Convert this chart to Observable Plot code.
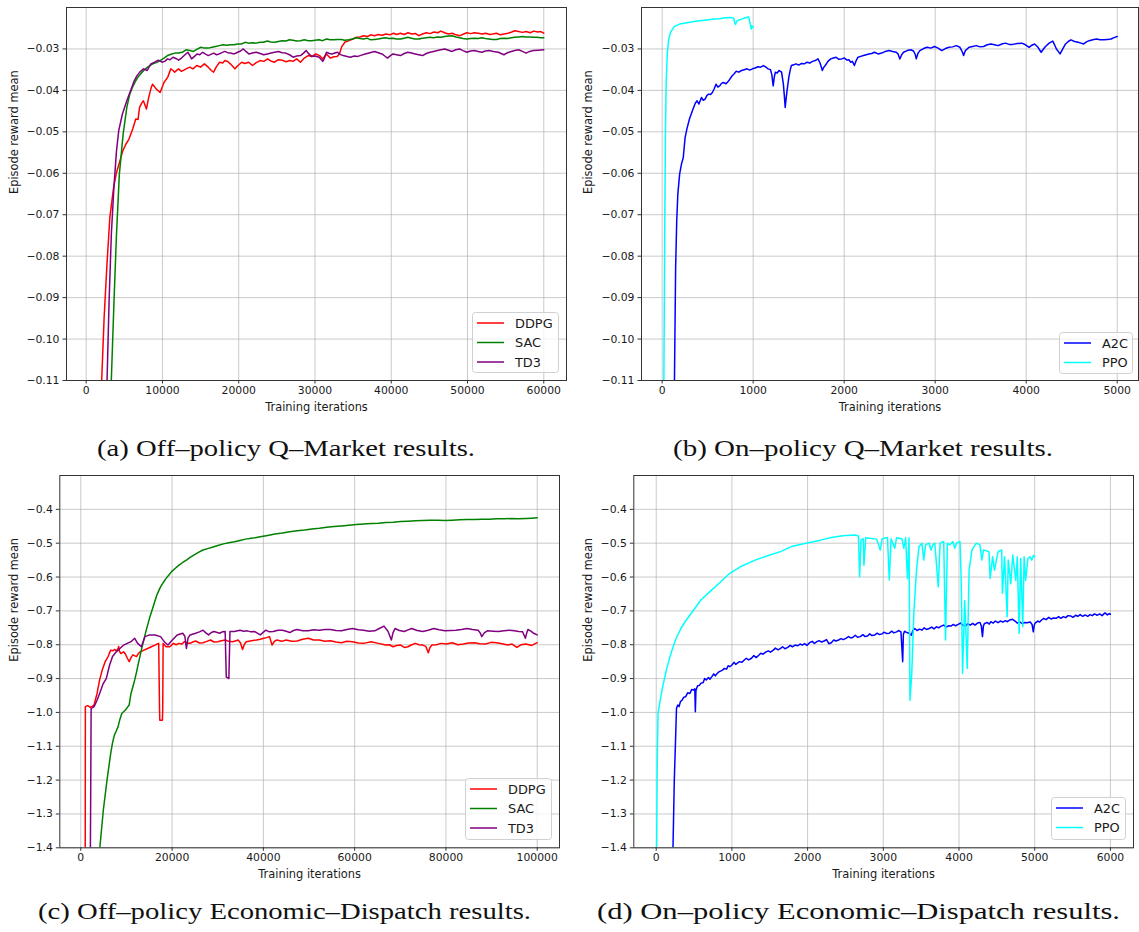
<!DOCTYPE html>
<html>
<head>
<meta charset="utf-8">
<script src="https://cdn.jsdelivr.net/npm/d3@7"></script>
<script src="https://cdn.jsdelivr.net/npm/@observablehq/plot@0.6"></script>
<style>
  html, body { margin: 0; padding: 0; background: #fff; }
  #fig { position: relative; width: 1139px; height: 932px; overflow: hidden; background: #fff; }
  .panel { position: absolute; }
  .panel svg { overflow: visible; }
  .overlay { position: absolute; left: 0; top: 0; pointer-events: none; }
</style>
</head>
<body>
<div id="fig"></div>
<script>
// ---- Series: [training iteration, episode reward mean] ----

// Q-Market, off-policy
const qOffDDPG = [[1980,-0.1125],[2350,-0.095],[2700,-0.0828],[3100,-0.0707],[3600,-0.0634],[3950,-0.0600],[4300,-0.0578],[4800,-0.0546],[5200,-0.0530],[5600,-0.0518],[6100,-0.0493],[6500,-0.0469],[6800,-0.0470],[7000,-0.0441],[7300,-0.0430],[7500,-0.0425],[7900,-0.0445],[8200,-0.0417],[8500,-0.0395],[8700,-0.0385],[9000,-0.0392],[9200,-0.0397],[9700,-0.0405],[10200,-0.0381],[10700,-0.0368],[11100,-0.0348],[11400,-0.0352],[11600,-0.0356],[12100,-0.0348],[12500,-0.0354],[13100,-0.0348],[13600,-0.0344],[14000,-0.0348],[14500,-0.0340],[15000,-0.0344],[15500,-0.0336],[16000,-0.0344],[16400,-0.0352],[16700,-0.0356],[17100,-0.0342],[17500,-0.0332],[17900,-0.0334],[18200,-0.0328],[18600,-0.0331],[18900,-0.0336],[19200,-0.0342],[19500,-0.0348],[19900,-0.0340],[20400,-0.0332],[20800,-0.0335],[21300,-0.0332],[21800,-0.0340],[22300,-0.0333],[22800,-0.0328],[23300,-0.0330],[23800,-0.0324],[24200,-0.0329],[24700,-0.0332],[25200,-0.0326],[25700,-0.0327],[26200,-0.0331],[26700,-0.0328],[27100,-0.0330],[27600,-0.0324],[28100,-0.0332],[28600,-0.0322],[29100,-0.0316],[29600,-0.0318],[30100,-0.0312],[30600,-0.0316],[31000,-0.0324],[31500,-0.0312],[32000,-0.0322],[32500,-0.0319],[32900,-0.0318],[33200,-0.0312],[33500,-0.0295],[33900,-0.0284],[34300,-0.0281],[34700,-0.0278],[35000,-0.0276],[35400,-0.0272],[35900,-0.0271],[36400,-0.0268],[36900,-0.0270],[37300,-0.0266],[37800,-0.0268],[38300,-0.0265],[38800,-0.0267],[39300,-0.0264],[39800,-0.0266],[40300,-0.0262],[40700,-0.0265],[41200,-0.0262],[41700,-0.0265],[42200,-0.0261],[42700,-0.0264],[43200,-0.0263],[43600,-0.0268],[44100,-0.0264],[44600,-0.0261],[45100,-0.0263],[45600,-0.0259],[46100,-0.0261],[46500,-0.0257],[47000,-0.0261],[47500,-0.0264],[48000,-0.0262],[48500,-0.0266],[49000,-0.0268],[49500,-0.0264],[49900,-0.0261],[50400,-0.0263],[50900,-0.0261],[51400,-0.0262],[51900,-0.0264],[52400,-0.0262],[52900,-0.0265],[53300,-0.0264],[53800,-0.0262],[54300,-0.0266],[54800,-0.0264],[55300,-0.0262],[55800,-0.0259],[56200,-0.0256],[56700,-0.0258],[57200,-0.0260],[57700,-0.0258],[58200,-0.0261],[58700,-0.0257],[59200,-0.0259],[59600,-0.0258],[60000,-0.0262]];

const qOffSAC = [[3250,-0.1125],[3650,-0.0908],[3975,-0.0747],[4350,-0.0602],[4850,-0.0505],[5330,-0.0441],[5700,-0.0410],[6060,-0.0393],[6400,-0.0380],[6790,-0.0368],[7250,-0.0358],[7760,-0.0348],[8200,-0.0342],[8730,-0.0336],[9200,-0.0333],[9700,-0.0328],[10200,-0.0322],[10660,-0.0316],[11150,-0.0313],[11630,-0.0310],[12100,-0.0310],[12600,-0.0308],[13090,-0.0302],[13600,-0.0304],[14060,-0.0306],[14500,-0.0301],[15030,-0.0296],[15500,-0.0298],[16000,-0.0298],[16500,-0.0296],[16970,-0.0294],[17450,-0.0292],[17940,-0.0290],[18400,-0.0291],[18900,-0.0290],[19400,-0.0290],[19870,-0.0288],[20350,-0.0288],[20840,-0.0284],[21300,-0.0286],[21800,-0.0285],[22300,-0.0286],[22780,-0.0284],[23250,-0.0284],[23750,-0.0281],[24200,-0.0283],[24720,-0.0284],[25200,-0.0282],[25690,-0.0280],[26200,-0.0281],[26660,-0.0278],[27100,-0.0279],[27630,-0.0281],[28100,-0.0280],[28600,-0.0278],[29100,-0.0280],[29570,-0.0280],[30000,-0.0279],[30540,-0.0278],[31000,-0.0280],[31510,-0.0276],[32000,-0.0278],[32480,-0.0278],[32950,-0.0277],[33450,-0.0277],[33900,-0.0279],[34420,-0.0278],[34900,-0.0276],[35390,-0.0273],[35900,-0.0275],[36360,-0.0276],[36800,-0.0274],[37320,-0.0278],[37800,-0.0277],[38290,-0.0276],[38800,-0.0274],[39250,-0.0273],[39700,-0.0275],[40200,-0.0274],[40700,-0.0276],[41200,-0.0276],[41700,-0.0274],[42170,-0.0272],[42650,-0.0274],[43100,-0.0276],[43630,-0.0276],[44100,-0.0274],[44600,-0.0273],[45080,-0.0272],[45550,-0.0273],[46050,-0.0271],[46500,-0.0272],[47020,-0.0270],[47500,-0.0269],[47990,-0.0268],[48500,-0.0271],[48960,-0.0273],[49400,-0.0275],[49930,-0.0276],[50400,-0.0275],[50900,-0.0274],[51400,-0.0275],[51870,-0.0273],[52350,-0.0275],[52800,-0.0276],[53300,-0.0277],[53810,-0.0277],[54300,-0.0275],[54800,-0.0274],[55260,-0.0275],[55740,-0.0273],[56200,-0.0272],[56700,-0.0271],[57200,-0.0270],[57700,-0.0271],[58200,-0.0271],[58650,-0.0272],[59100,-0.0272],[59600,-0.0273],[60000,-0.0273]];

const qOffTD3 = [[2700,-0.1125],[3005,-0.0908],[3300,-0.0747],[3635,-0.0634],[3975,-0.0546],[4270,-0.0497],[4750,-0.0457],[5330,-0.0425],[5820,-0.0401],[6300,-0.0377],[6650,-0.0365],[7030,-0.0356],[7510,-0.0348],[8000,-0.0352],[8480,-0.0336],[8970,-0.0332],[9450,-0.0327],[9940,-0.0332],[10300,-0.0330],[10660,-0.0324],[11000,-0.0326],[11390,-0.0320],[11750,-0.0323],[12120,-0.0327],[12500,-0.0322],[12850,-0.0316],[13330,-0.0308],[13600,-0.0316],[13820,-0.0324],[14200,-0.0318],[14540,-0.0312],[14900,-0.0314],[15270,-0.0308],[15600,-0.0312],[16000,-0.0316],[16350,-0.0313],[16720,-0.0310],[17100,-0.0314],[17450,-0.0312],[17800,-0.0309],[18180,-0.0306],[18550,-0.0309],[18900,-0.0310],[19400,-0.0312],[19870,-0.0308],[20250,-0.0305],[20600,-0.0300],[20950,-0.0306],[21330,-0.0312],[21800,-0.0310],[22300,-0.0308],[22800,-0.0311],[23270,-0.0314],[23750,-0.0312],[24240,-0.0310],[24700,-0.0308],[25210,-0.0306],[25700,-0.0309],[26180,-0.0310],[26650,-0.0314],[27150,-0.0320],[27600,-0.0317],[28110,-0.0316],[28500,-0.0310],[28840,-0.0304],[29200,-0.0312],[29570,-0.0318],[30050,-0.0317],[30540,-0.0320],[31020,-0.0330],[31250,-0.0322],[31510,-0.0308],[31900,-0.0311],[32240,-0.0312],[32600,-0.0310],[32960,-0.0308],[33300,-0.0313],[33690,-0.0316],[34200,-0.0318],[34660,-0.0320],[35150,-0.0317],[35630,-0.0318],[36100,-0.0315],[36600,-0.0312],[37200,-0.0309],[37810,-0.0306],[38300,-0.0309],[38780,-0.0312],[39150,-0.0317],[39510,-0.0322],[39900,-0.0316],[40230,-0.0312],[40700,-0.0314],[41200,-0.0316],[41700,-0.0311],[42170,-0.0308],[42650,-0.0310],[43140,-0.0312],[43600,-0.0314],[44110,-0.0316],[44600,-0.0311],[45080,-0.0308],[45550,-0.0306],[46050,-0.0304],[46500,-0.0302],[47020,-0.0300],[47500,-0.0303],[47990,-0.0306],[48450,-0.0302],[48960,-0.0300],[49400,-0.0304],[49930,-0.0308],[50400,-0.0305],[50900,-0.0304],[51400,-0.0306],[51870,-0.0308],[52350,-0.0305],[52840,-0.0304],[53400,-0.0306],[54050,-0.0308],[54400,-0.0311],[54780,-0.0314],[55250,-0.0309],[55740,-0.0306],[56200,-0.0304],[56710,-0.0302],[57200,-0.0306],[57680,-0.0310],[58150,-0.0306],[58650,-0.0304],[59300,-0.0303],[60000,-0.0302]];

// Q-Market, on-policy
const qOnA2C = [[134,-0.1125],[148,-0.0828],[160,-0.0715],[172,-0.0651],[192,-0.0602],[212,-0.0578],[232,-0.0562],[252,-0.0514],[272,-0.0493],[300,-0.0469],[332,-0.0449],[364,-0.0431],[384,-0.0425],[404,-0.0433],[432,-0.0417],[452,-0.0424],[472,-0.0421],[492,-0.0412],[512,-0.0409],[532,-0.0410],[552,-0.0405],[572,-0.0396],[592,-0.0385],[612,-0.0392],[632,-0.0389],[652,-0.0383],[672,-0.0381],[702,-0.0384],[732,-0.0377],[752,-0.0370],[772,-0.0364],[792,-0.0360],[812,-0.0354],[842,-0.0356],[872,-0.0352],[902,-0.0350],[932,-0.0348],[962,-0.0351],[992,-0.0348],[1022,-0.0346],[1052,-0.0343],[1082,-0.0344],[1112,-0.0340],[1140,-0.0344],[1164,-0.0348],[1190,-0.0350],[1205,-0.0362],[1220,-0.0389],[1232,-0.0368],[1244,-0.0356],[1264,-0.0358],[1284,-0.0352],[1300,-0.0354],[1312,-0.0356],[1332,-0.0385],[1345,-0.0420],[1352,-0.0441],[1362,-0.0420],[1372,-0.0401],[1392,-0.0368],[1408,-0.0350],[1420,-0.0340],[1446,-0.0338],[1472,-0.0336],[1500,-0.0339],[1532,-0.0335],[1562,-0.0336],[1592,-0.0332],[1622,-0.0334],[1652,-0.0330],[1682,-0.0328],[1712,-0.0324],[1735,-0.0334],[1760,-0.0352],[1776,-0.0344],[1792,-0.0340],[1822,-0.0330],[1852,-0.0324],[1882,-0.0322],[1912,-0.0320],[1942,-0.0325],[1972,-0.0324],[2002,-0.0322],[2032,-0.0327],[2052,-0.0326],[2072,-0.0332],[2090,-0.0330],[2112,-0.0340],[2132,-0.0328],[2152,-0.0320],[2182,-0.0318],[2212,-0.0316],[2242,-0.0314],[2272,-0.0312],[2302,-0.0311],[2332,-0.0308],[2372,-0.0312],[2412,-0.0310],[2452,-0.0306],[2492,-0.0304],[2532,-0.0306],[2572,-0.0308],[2592,-0.0312],[2612,-0.0324],[2632,-0.0314],[2652,-0.0308],[2692,-0.0304],[2732,-0.0302],[2762,-0.0305],[2782,-0.0314],[2792,-0.0324],[2812,-0.0310],[2832,-0.0304],[2872,-0.0299],[2912,-0.0296],[2952,-0.0298],[2992,-0.0294],[3032,-0.0298],[3072,-0.0304],[3112,-0.0299],[3152,-0.0296],[3192,-0.0295],[3232,-0.0292],[3272,-0.0296],[3300,-0.0308],[3312,-0.0316],[3332,-0.0304],[3372,-0.0296],[3412,-0.0294],[3452,-0.0292],[3492,-0.0295],[3532,-0.0294],[3572,-0.0290],[3612,-0.0288],[3652,-0.0290],[3692,-0.0292],[3732,-0.0288],[3772,-0.0286],[3812,-0.0289],[3852,-0.0289],[3902,-0.0287],[3952,-0.0286],[3992,-0.0290],[4032,-0.0296],[4062,-0.0291],[4092,-0.0288],[4130,-0.0296],[4164,-0.0308],[4190,-0.0300],[4212,-0.0294],[4252,-0.0286],[4292,-0.0281],[4312,-0.0290],[4332,-0.0300],[4352,-0.0306],[4372,-0.0312],[4402,-0.0300],[4432,-0.0288],[4462,-0.0282],[4492,-0.0278],[4532,-0.0282],[4572,-0.0284],[4602,-0.0286],[4632,-0.0288],[4662,-0.0283],[4692,-0.0280],[4732,-0.0278],[4772,-0.0276],[4812,-0.0278],[4852,-0.0278],[4892,-0.0277],[4932,-0.0276],[4972,-0.0272],[5000,-0.0270]];

const qOnPPO = [[18,-0.1125],[28,-0.0747],[36,-0.0505],[44,-0.0385],[56,-0.0312],[72,-0.0276],[92,-0.0260],[132,-0.0246],[192,-0.0240],[240,-0.0238],[292,-0.0236],[350,-0.0234],[412,-0.0232],[490,-0.0230],[572,-0.0228],[630,-0.0227],[692,-0.0225],[752,-0.0224],[785,-0.0226],[800,-0.0238],[806,-0.0241],[820,-0.0233],[845,-0.0230],[872,-0.0228],[900,-0.0226],[932,-0.0224],[944,-0.0222],[955,-0.0226],[964,-0.0236],[972,-0.0244],[980,-0.0252],[986,-0.0244],[992,-0.0246],[1000,-0.0249]];

// Economic Dispatch, off-policy
const edOffDDPG = [[970,-1.42],[1000,-0.983],[1500,-0.980],[2103,-0.985],[2500,-0.982],[2912,-0.978],[3560,-0.944],[4126,-0.904],[4692,-0.875],[5339,-0.850],[5987,-0.835],[6553,-0.816],[7000,-0.818],[7362,-0.814],[7800,-0.818],[8171,-0.811],[8300,-0.805],[8450,-0.818],[8737,-0.826],[9384,-0.821],[9800,-0.828],[10193,-0.840],[10598,-0.850],[11000,-0.838],[11407,-0.830],[12216,-0.835],[12600,-0.826],[13025,-0.821],[13834,-0.816],[14643,-0.811],[15452,-0.806],[16261,-0.801],[16700,-0.798],[17069,-0.796],[17250,-0.990],[17312,-1.023],[17878,-1.023],[17950,-0.990],[18040,-0.796],[18688,-0.806],[19497,-0.806],[20306,-0.796],[20900,-0.800],[21519,-0.796],[22100,-0.798],[22733,-0.791],[23300,-0.796],[23946,-0.796],[24500,-0.792],[25160,-0.789],[26000,-0.795],[26778,-0.794],[27600,-0.790],[28396,-0.786],[29200,-0.792],[30014,-0.791],[30800,-0.788],[31632,-0.786],[32400,-0.790],[33250,-0.791],[34000,-0.788],[34463,-0.786],[35000,-0.795],[35434,-0.814],[35800,-0.800],[36243,-0.791],[37400,-0.788],[38508,-0.786],[39300,-0.784],[40126,-0.781],[40700,-0.779],[41340,-0.776],[41906,-0.801],[42400,-0.790],[42958,-0.786],[44000,-0.790],[44980,-0.786],[46200,-0.790],[47407,-0.789],[48600,-0.784],[49834,-0.781],[51000,-0.786],[52261,-0.786],[53500,-0.790],[54688,-0.788],[55900,-0.792],[57115,-0.794],[58300,-0.790],[59542,-0.791],[60800,-0.795],[61969,-0.796],[63587,-0.791],[65200,-0.796],[66823,-0.801],[67600,-0.800],[68441,-0.806],[69200,-0.802],[70058,-0.801],[70900,-0.808],[71677,-0.806],[72500,-0.800],[73295,-0.796],[74100,-0.800],[74913,-0.801],[75600,-0.805],[76127,-0.824],[76500,-0.808],[76936,-0.801],[77900,-0.800],[78958,-0.796],[80100,-0.798],[81385,-0.794],[82600,-0.800],[83812,-0.798],[85000,-0.795],[86239,-0.794],[87400,-0.797],[88666,-0.798],[89900,-0.793],[91093,-0.794],[92300,-0.797],[93520,-0.801],[94500,-0.798],[95543,-0.808],[96500,-0.800],[97565,-0.798],[98800,-0.802],[100000,-0.794]];

const edOffSAC = [[4100,-1.41],[4935,-1.289],[5744,-1.200],[6150,-1.160],[6553,-1.121],[6950,-1.090],[7362,-1.067],[7770,-1.055],[8171,-1.042],[8580,-1.020],[8980,-1.003],[9380,-0.998],[9789,-0.993],[10200,-0.985],[10598,-0.978],[11002,-0.944],[11400,-0.925],[11811,-0.904],[12220,-0.880],[12620,-0.855],[13030,-0.830],[13429,-0.806],[13830,-0.784],[14238,-0.762],[14640,-0.742],[15047,-0.722],[15450,-0.705],[15856,-0.688],[16260,-0.670],[16665,-0.653],[17070,-0.641],[17474,-0.629],[18080,-0.616],[18688,-0.604],[19300,-0.594],[19901,-0.584],[20710,-0.574],[21519,-0.565],[22330,-0.557],[23137,-0.550],[23950,-0.542],[24755,-0.535],[25770,-0.527],[26778,-0.520],[27790,-0.516],[28800,-0.512],[30010,-0.507],[31227,-0.502],[32440,-0.499],[33654,-0.496],[34870,-0.492],[36081,-0.488],[37700,-0.485],[39317,-0.481],[40930,-0.477],[42553,-0.473],[44170,-0.470],[45789,-0.466],[47400,-0.463],[49025,-0.461],[50640,-0.458],[52261,-0.456],[53880,-0.453],[55497,-0.451],[57110,-0.449],[58733,-0.447],[60350,-0.445],[61969,-0.443],[63590,-0.442],[65205,-0.441],[66820,-0.439],[68441,-0.438],[70060,-0.436],[71677,-0.435],[73300,-0.434],[74913,-0.433],[76530,-0.432],[78149,-0.432],[79770,-0.433],[81385,-0.432],[83000,-0.431],[84621,-0.430],[86240,-0.430],[87857,-0.429],[89470,-0.429],[91093,-0.428],[92710,-0.428],[94329,-0.427],[95950,-0.428],[97565,-0.427],[98800,-0.426],[100000,-0.425]];

const edOffTD3 = [[2100,-1.42],[2265,-0.988],[2600,-0.986],[2912,-0.983],[3560,-0.964],[4126,-0.944],[4935,-0.914],[5582,-0.900],[6310,-0.860],[6957,-0.835],[7766,-0.821],[8575,-0.811],[9384,-0.801],[10193,-0.796],[11002,-0.791],[11811,-0.781],[12458,-0.796],[13267,-0.806],[14076,-0.776],[15047,-0.771],[16261,-0.771],[17474,-0.776],[18283,-0.791],[19092,-0.801],[20063,-0.786],[21115,-0.771],[22328,-0.766],[22800,-0.775],[23137,-0.811],[23500,-0.780],[23946,-0.771],[25160,-0.766],[26000,-0.762],[26778,-0.757],[27400,-0.765],[27991,-0.771],[28600,-0.764],[29204,-0.761],[30418,-0.766],[31000,-0.762],[31632,-0.761],[31750,-0.830],[31874,-0.895],[32440,-0.900],[32560,-0.830],[32683,-0.761],[33654,-0.761],[34868,-0.757],[35700,-0.760],[36486,-0.759],[37300,-0.762],[38104,-0.761],[38700,-0.766],[39317,-0.771],[40531,-0.757],[41300,-0.762],[42149,-0.761],[43200,-0.757],[44171,-0.757],[45000,-0.760],[45789,-0.764],[46600,-0.758],[47407,-0.755],[48600,-0.759],[49834,-0.759],[51000,-0.756],[52261,-0.757],[53500,-0.755],[54688,-0.755],[55900,-0.758],[57115,-0.759],[58300,-0.755],[59542,-0.752],[60800,-0.756],[61969,-0.757],[63200,-0.760],[64396,-0.759],[65400,-0.752],[66419,-0.745],[67300,-0.760],[68037,-0.786],[68400,-0.765],[68846,-0.752],[69800,-0.758],[70868,-0.761],[71700,-0.756],[72486,-0.752],[73700,-0.758],[74913,-0.761],[76100,-0.757],[77340,-0.752],[78500,-0.756],[79767,-0.759],[81000,-0.758],[82194,-0.757],[83400,-0.755],[84621,-0.752],[85800,-0.755],[87048,-0.757],[87500,-0.765],[87857,-0.776],[88400,-0.765],[89071,-0.759],[90300,-0.760],[91498,-0.761],[92700,-0.759],[93925,-0.757],[95000,-0.759],[95947,-0.761],[96800,-0.762],[97403,-0.781],[97700,-0.765],[97969,-0.755],[98600,-0.760],[99182,-0.766],[100000,-0.771]];

// Economic Dispatch, on-policy
const edOnA2C = [[220,-1.42],[239,-1.200],[254,-1.092],[268,-0.988],[285,-0.978],[302,-0.983],[320,-0.968],[340,-0.964],[365,-0.955],[388,-0.954],[415,-0.942],[445,-0.944],[470,-0.932],[493,-0.934],[510,-0.930],[517,-0.998],[525,-0.935],[545,-0.922],[570,-0.920],[589,-0.914],[620,-0.912],[640,-0.900],[661,-0.904],[690,-0.897],[710,-0.902],[733,-0.895],[760,-0.886],[780,-0.892],[805,-0.885],[830,-0.880],[850,-0.878],[876,-0.875],[900,-0.870],[930,-0.872],[950,-0.862],[972,-0.865],[1000,-0.860],[1030,-0.852],[1050,-0.858],[1068,-0.855],[1100,-0.850],[1130,-0.852],[1164,-0.845],[1190,-0.840],[1220,-0.845],[1259,-0.840],[1290,-0.832],[1320,-0.838],[1355,-0.831],[1380,-0.825],[1410,-0.828],[1451,-0.821],[1480,-0.818],[1510,-0.822],[1547,-0.816],[1575,-0.810],[1610,-0.815],[1643,-0.811],[1670,-0.806],[1700,-0.812],[1738,-0.808],[1770,-0.802],[1800,-0.806],[1834,-0.801],[1870,-0.803],[1900,-0.798],[1930,-0.801],[1960,-0.797],[1990,-0.802],[2026,-0.794],[2060,-0.790],[2090,-0.796],[2122,-0.791],[2150,-0.788],[2185,-0.792],[2217,-0.789],[2250,-0.785],[2280,-0.797],[2313,-0.794],[2345,-0.786],[2375,-0.789],[2409,-0.786],[2440,-0.782],[2470,-0.785],[2505,-0.781],[2540,-0.776],[2570,-0.780],[2600,-0.778],[2630,-0.772],[2660,-0.778],[2696,-0.776],[2730,-0.770],[2760,-0.776],[2792,-0.774],[2820,-0.768],[2850,-0.773],[2888,-0.771],[2920,-0.766],[2950,-0.770],[2984,-0.768],[3010,-0.763],[3045,-0.767],[3079,-0.766],[3110,-0.760],[3140,-0.765],[3175,-0.762],[3205,-0.758],[3233,-0.762],[3256,-0.850],[3265,-0.770],[3280,-0.760],[3310,-0.764],[3343,-0.766],[3370,-0.772],[3390,-0.758],[3415,-0.752],[3445,-0.758],[3480,-0.754],[3510,-0.757],[3540,-0.750],[3570,-0.755],[3606,-0.752],[3640,-0.748],[3670,-0.753],[3702,-0.747],[3730,-0.750],[3765,-0.745],[3798,-0.742],[3830,-0.748],[3860,-0.744],[3893,-0.745],[3925,-0.740],[3955,-0.744],[3989,-0.740],[4020,-0.736],[4050,-0.742],[4085,-0.745],[4115,-0.738],[4150,-0.742],[4181,-0.737],[4210,-0.742],[4245,-0.736],[4277,-0.734],[4295,-0.745],[4310,-0.776],[4322,-0.745],[4334,-0.738],[4370,-0.734],[4400,-0.739],[4420,-0.732],[4450,-0.736],[4480,-0.730],[4516,-0.735],[4545,-0.730],[4580,-0.733],[4612,-0.729],[4640,-0.732],[4670,-0.727],[4708,-0.725],[4740,-0.730],[4770,-0.736],[4803,-0.732],[4835,-0.738],[4865,-0.734],[4899,-0.735],[4940,-0.733],[4965,-0.740],[4981,-0.762],[4995,-0.742],[5005,-0.736],[5040,-0.730],[5065,-0.733],[5091,-0.727],[5120,-0.722],[5150,-0.726],[5187,-0.719],[5215,-0.724],[5250,-0.721],[5282,-0.722],[5315,-0.717],[5345,-0.722],[5378,-0.717],[5410,-0.720],[5440,-0.714],[5474,-0.715],[5505,-0.719],[5540,-0.713],[5570,-0.716],[5600,-0.711],[5635,-0.716],[5665,-0.712],[5700,-0.716],[5730,-0.711],[5761,-0.714],[5790,-0.709],[5825,-0.713],[5857,-0.709],[5890,-0.714],[5928,-0.706],[5960,-0.712],[5985,-0.708],[6000,-0.710]];

const edOnPPO = [[5,-1.42],[14,-1.141],[24,-1.003],[53,-0.964],[86,-0.924],[134,-0.875],[182,-0.835],[254,-0.786],[326,-0.752],[397,-0.727],[493,-0.698],[589,-0.668],[709,-0.643],[828,-0.619],[972,-0.589],[1116,-0.569],[1307,-0.550],[1499,-0.535],[1643,-0.525],[1786,-0.510],[1978,-0.500],[2169,-0.491],[2313,-0.483],[2457,-0.478],[2624,-0.476],[2672,-0.479],[2687,-0.599],[2706,-0.490],[2735,-0.487],[2744,-0.565],[2768,-0.484],[2840,-0.486],[2912,-0.488],[2960,-0.520],[2984,-0.487],[3055,-0.483],[3079,-0.609],[3103,-0.487],[3151,-0.515],[3175,-0.484],[3247,-0.487],[3271,-0.515],[3295,-0.484],[3319,-0.604],[3340,-0.484],[3352,-0.964],[3376,-0.885],[3405,-0.698],[3439,-0.579],[3472,-0.510],[3510,-0.500],[3534,-0.550],[3558,-0.505],[3606,-0.500],[3630,-0.520],[3654,-0.505],[3680,-0.500],[3726,-0.629],[3750,-0.500],[3798,-0.495],[3822,-0.786],[3846,-0.500],[3880,-0.505],[3918,-0.495],[3945,-0.515],[3965,-0.500],[4013,-0.495],[4028,-0.599],[4047,-0.885],[4075,-0.670],[4109,-0.870],[4133,-0.580],[4171,-0.520],[4229,-0.500],[4277,-0.505],[4301,-0.550],[4324,-0.520],[4396,-0.525],[4411,-0.604],[4444,-0.540],[4468,-0.580],[4516,-0.525],[4564,-0.520],[4573,-0.648],[4602,-0.540],[4636,-0.717],[4650,-0.550],[4684,-0.620],[4710,-0.535],[4750,-0.610],[4770,-0.540],[4794,-0.767],[4815,-0.545],[4842,-0.747],[4860,-0.540],[4880,-0.610],[4910,-0.545],[4940,-0.540],[4960,-0.550],[4985,-0.536],[5000,-0.540]];

// ---- Ticks, labels, captions ----
const qmYTicks = [-0.11, -0.10, -0.09, -0.08, -0.07, -0.06, -0.05, -0.04, -0.03];
const edYTicks = [-1.4, -1.3, -1.2, -1.1, -1.0, -0.9, -0.8, -0.7, -0.6, -0.5, -0.4];
const qOffXTicks = [0, 10000, 20000, 30000, 40000, 50000, 60000];
const qOnXTicks = [0, 1000, 2000, 3000, 4000, 5000];
const edOffXTicks = [0, 20000, 40000, 60000, 80000, 100000];
const edOnXTicks = [0, 1000, 2000, 3000, 4000, 5000, 6000];
const offNames = ["DDPG", "SAC", "TD3"];
const onNames = ["A2C", "PPO"];
const xLabel = "Training iterations";
const yLabel = "Episode reward mean";
const captions = [
  "(a) Off\u2013policy Q\u2013Market results.",
  "(b) On\u2013policy Q\u2013Market results.",
  "(c) Off\u2013policy Economic\u2013Dispatch results.",
  "(d) On\u2013policy Economic\u2013Dispatch results."
];

const colors = { DDPG: "#ff0000", SAC: "#008000", TD3: "#800080", A2C: "#0000ff", PPO: "#00ffff" };

const fig = document.getElementById("fig");
const SANS = "'DejaVu Sans', sans-serif";

function toRows(name, pairs) {
  return pairs.map(([x, y]) => ({ name, x, y }));
}

function panel(cfg) {
  const marks = [
    Plot.gridX(cfg.xTicks, { stroke: "#b0b0b0", strokeOpacity: 0.75, strokeWidth: 0.9 }),
    Plot.gridY(cfg.yTicks, { stroke: "#b0b0b0", strokeOpacity: 0.75, strokeWidth: 0.9 }),
    ...cfg.series.map(([name, pairs]) =>
      Plot.line(toRows(name, pairs), { x: "x", y: "y", stroke: colors[name], strokeWidth: 1.5, clip: true })
    ),
    Plot.frame({ stroke: "#333", strokeWidth: 1 }),
    Plot.axisX(cfg.xTicks, { tickFormat: d3.format("d"), tickSize: 3.5, tickPadding: 2.5, label: null, stroke: "#333" }),
    Plot.axisY(cfg.yTicks, { tickFormat: d3.format(cfg.yFormat), tickSize: 3.5, tickPadding: 3.5, label: null, stroke: "#333" }),
    Plot.text([xLabel], { frameAnchor: "bottom", dy: cfg.xLabelDy, fontSize: 11.4, fill: "#1a1a1a", lineAnchor: "middle" }),
    Plot.text([yLabel], { frameAnchor: "left", dx: cfg.yLabelDx, rotate: -90, fontSize: 11.4, fill: "#1a1a1a", lineAnchor: "middle" })
  ];
  const chart = Plot.plot({
    width: cfg.width,
    height: cfg.height,
    marginLeft: cfg.m[0], marginTop: cfg.m[1], marginRight: cfg.m[2], marginBottom: cfg.m[3],
    style: { fontFamily: SANS, fontSize: "10.8px", color: "#1a1a1a", background: "transparent", overflow: "visible" },
    x: { domain: cfg.xDomain, label: null },
    y: { domain: cfg.yDomain, label: null },
    marks
  });
  const wrap = document.createElement("div");
  wrap.className = "panel";
  wrap.style.left = cfg.left + "px";
  wrap.style.top = cfg.top + "px";
  wrap.appendChild(chart);
  fig.appendChild(wrap);
}

function legend(left, top, w, h, names) {
  const ns = "http://www.w3.org/2000/svg";
  const svg = document.createElementNS(ns, "svg");
  svg.setAttribute("width", w);
  svg.setAttribute("height", h);
  svg.style.position = "absolute";
  svg.style.left = left + "px";
  svg.style.top = top + "px";
  const rect = document.createElementNS(ns, "rect");
  rect.setAttribute("x", 0.5); rect.setAttribute("y", 0.5);
  rect.setAttribute("width", w - 1); rect.setAttribute("height", h - 1);
  rect.setAttribute("rx", 3);
  rect.setAttribute("fill", "rgba(255,255,255,0.8)");
  rect.setAttribute("stroke", "#d0d0d0");
  svg.appendChild(rect);
  names.forEach((name, i) => {
    const y = 11 + i * 19.5;
    const line = document.createElementNS(ns, "line");
    line.setAttribute("x1", 5); line.setAttribute("x2", 32);
    line.setAttribute("y1", y); line.setAttribute("y2", y);
    line.setAttribute("stroke", colors[name]);
    line.setAttribute("stroke-width", 1.5);
    svg.appendChild(line);
    const t = document.createElementNS(ns, "text");
    t.setAttribute("x", 43); t.setAttribute("y", y);
    t.setAttribute("dominant-baseline", "central");
    t.setAttribute("font-family", SANS);
    t.setAttribute("font-size", "12.9px");
    t.setAttribute("fill", "#1a1a1a");
    t.textContent = name;
    svg.appendChild(t);
  });
  fig.appendChild(svg);
}

// (a) Q-Market, off-policy
panel({ left: 0, top: 0, width: 570, height: 420, m: [66, 7, 4, 40],
  xDomain: [-2580, 62980], yDomain: [-0.11, -0.02], xTicks: qOffXTicks, yTicks: qmYTicks, yFormat: ".2f",
  xLabelDy: 27, yLabelDx: -52,
  series: [["DDPG", qOffDDPG], ["SAC", qOffSAC], ["TD3", qOffTD3]] });

// (b) Q-Market, on-policy
panel({ left: 570, top: 0, width: 569, height: 420, m: [71, 7, 1, 40],
  xDomain: [-227, 5234], yDomain: [-0.11, -0.02], xTicks: qOnXTicks, yTicks: qmYTicks, yFormat: ".2f",
  xLabelDy: 27, yLabelDx: -53,
  series: [["A2C", qOnA2C], ["PPO", qOnPPO]] });

// (c) Economic Dispatch, off-policy
panel({ left: 0, top: 465, width: 570, height: 425, m: [59.3, 10, 11, 42.7],
  xDomain: [-4600, 104880], yDomain: [-1.4, -0.3], xTicks: edOffXTicks, yTicks: edYTicks, yFormat: ".1f",
  xLabelDy: 27, yLabelDx: -45,
  series: [["DDPG", edOffDDPG], ["SAC", edOffSAC], ["TD3", edOffTD3]] });

// (d) Economic Dispatch, on-policy
panel({ left: 570, top: 465, width: 569, height: 425, m: [63.3, 10, 6, 42.7],
  xDomain: [-296, 6305], yDomain: [-1.4, -0.3], xTicks: edOnXTicks, yTicks: edYTicks, yFormat: ".1f",
  xLabelDy: 27, yLabelDx: -45,
  series: [["A2C", edOnA2C], ["PPO", edOnPPO]] });

legend(472, 312, 87, 61, offNames);
legend(1059, 332, 74, 42, onNames);
legend(465, 778, 87, 62, offNames);
legend(1051, 797, 75, 43, onNames);

// Sub-figure captions, each fitted to its measured line width
(function () {
  const ns = "http://www.w3.org/2000/svg";
  const svg = document.createElementNS(ns, "svg");
  svg.setAttribute("width", 1139);
  svg.setAttribute("height", 932);
  svg.setAttribute("class", "overlay");
  const spots = [[97, 456, 378], [673, 456, 380], [38, 919, 493], [597, 919, 523]];
  captions.forEach((c, i) => {
    const [x, y, len] = spots[i];
    const t = document.createElementNS(ns, "text");
    t.setAttribute("x", x); t.setAttribute("y", y);
    t.setAttribute("font-family", "'Liberation Serif', 'DejaVu Serif', serif");
    t.setAttribute("font-size", "24px");
    t.setAttribute("fill", "#111");
    t.setAttribute("textLength", len);
    t.setAttribute("lengthAdjust", "spacingAndGlyphs");
    t.textContent = c;
    svg.appendChild(t);
  });
  fig.appendChild(svg);
})();
</script>
</body>
</html>
